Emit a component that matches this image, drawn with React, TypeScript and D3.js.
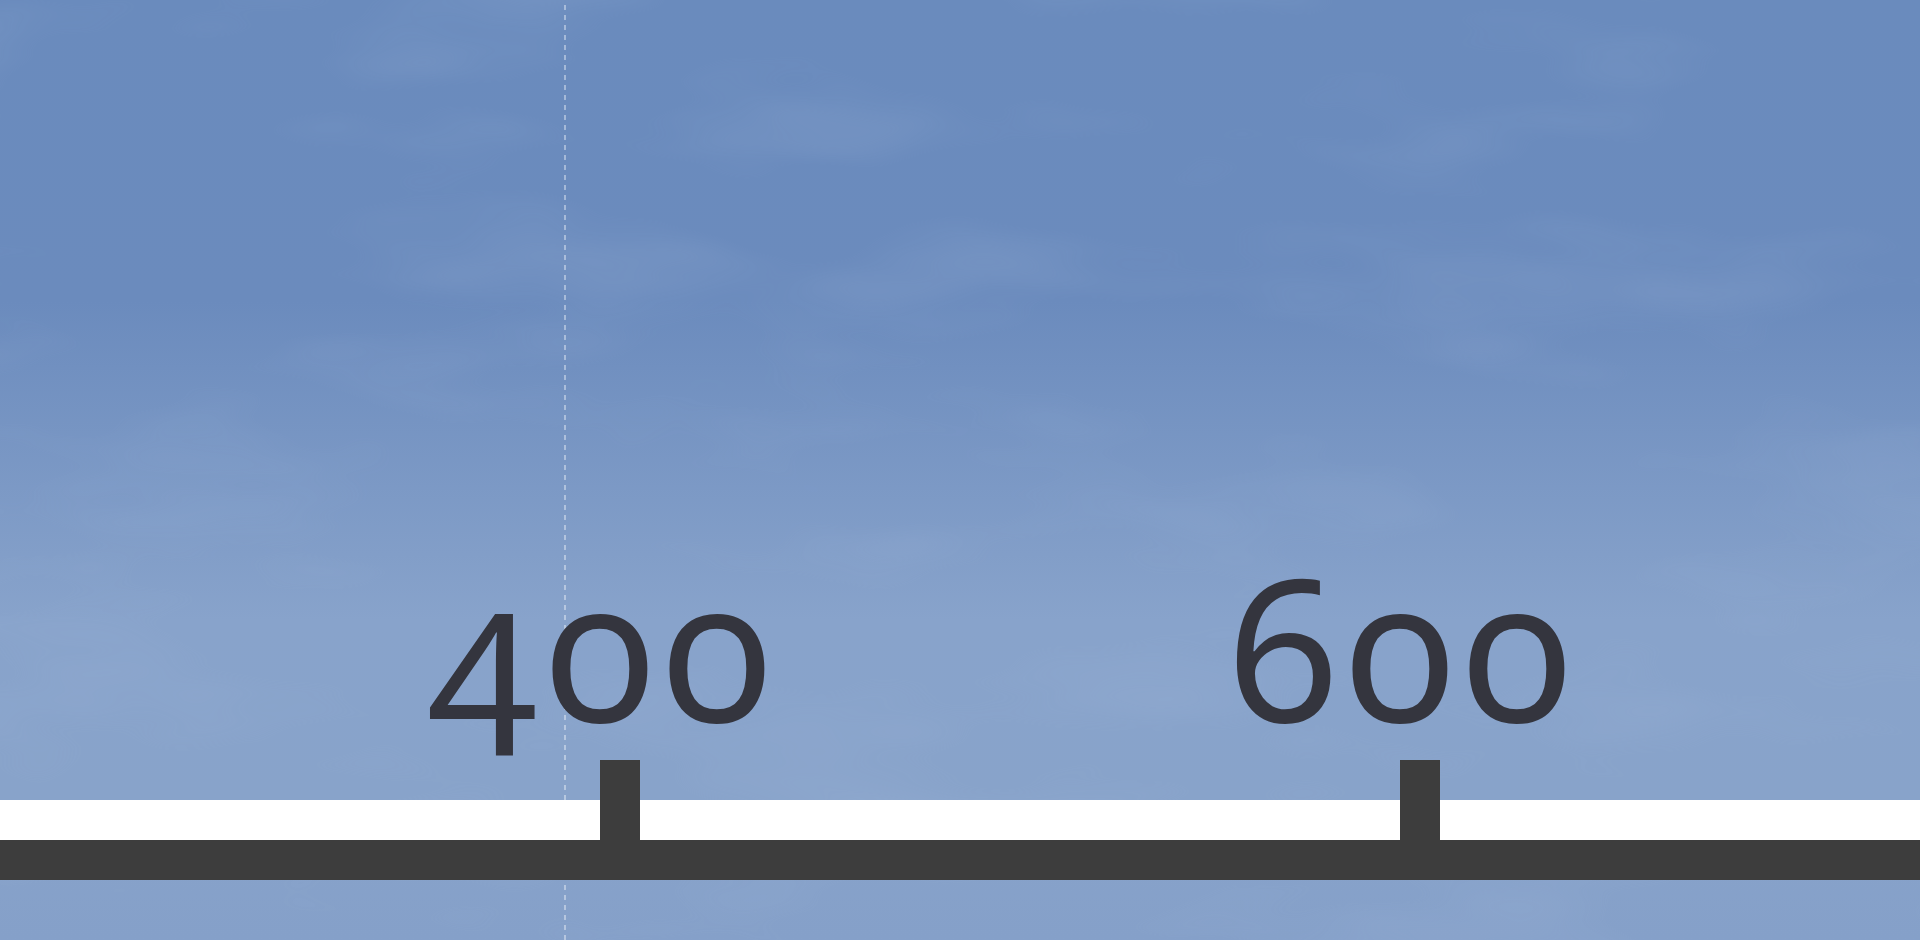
import React from "react"
import * as d3 from "d3"

// visible slice of the x axis
const xDomain = [250, 730]
const tickValues = [400, 600]
const tickLabels = ["400", "600"]
// dashed reference line
const markerValues = [391.25]

const W = 1920
const H = 940

export default function App() {
  const x = d3.scaleLinear().domain(xDomain).range([0, W])

  const axisY = 840 // top of the dark axis bar
  const tickW = 40

  return (
    <svg
      width={W}
      height={H}
      style={{ position: "fixed", left: 0, top: 0, display: "block" }}
    >
      <defs>
        <linearGradient id="bg" x1="0" y1="0" x2="0" y2="1">
          <stop offset="0" stopColor="#6a8bbd" />
          <stop offset="0.32" stopColor="#6b8bbd" />
          <stop offset="0.66" stopColor="#88a3cb" />
          <stop offset="0.85" stopColor="#88a3ca" />
          <stop offset="1" stopColor="#85a0c9" />
        </linearGradient>
        <filter id="clouds" x="0" y="0" width="100%" height="100%">
          <feTurbulence type="fractalNoise" baseFrequency="0.003 0.009" numOctaves="3" seed="11" />
          <feColorMatrix
            type="matrix"
            values="0 0 0 0 0.36  0 0 0 0 0.48  0 0 0 0 0.70  0 0 0 1.6 -0.78"
          />
        </filter>
      </defs>

      {/* background */}
      <rect x={0} y={0} width={W} height={H} fill="url(#bg)" />
      <rect x={0} y={0} width={W} height={H} filter="url(#clouds)" opacity={0.3} />

      {/* dashed marker line */}
      {markerValues.map((v) => (
        <line
          key={v}
          x1={x(v)}
          x2={x(v)}
          y1={0}
          y2={H}
          stroke="#ffffff"
          strokeOpacity={0.8}
          strokeWidth={1}
          strokeDasharray="5,5"
          strokeDashoffset={5}
        />
      ))}

      {/* white band above the axis */}
      <rect x={0} y={axisY - 40} width={W} height={40} fill="#ffffff" />

      {/* axis bar */}
      <rect x={0} y={axisY} width={W} height={40} fill="#3d3d3d" />

      {/* ticks */}
      {tickValues.map((v) => (
        <rect key={v} x={x(v)} y={axisY - 80} width={tickW} height={80} fill="#3d3d3d" />
      ))}

      {/* tick labels */}
      {tickValues.map((v, i) => (
        <text
          key={v}
          x={x(v)}
          y={722}
          textAnchor="middle"
          fontFamily="'Noto Sans', 'Open Sans', sans-serif"
          fontSize={198}
          fill="#34353e"
          textLength={342}
          lengthAdjust="spacing"
          style={{ fontVariantNumeric: "oldstyle-nums" }}
        >
          {tickLabels[i]}
        </text>
      ))}
    </svg>
  )
}
